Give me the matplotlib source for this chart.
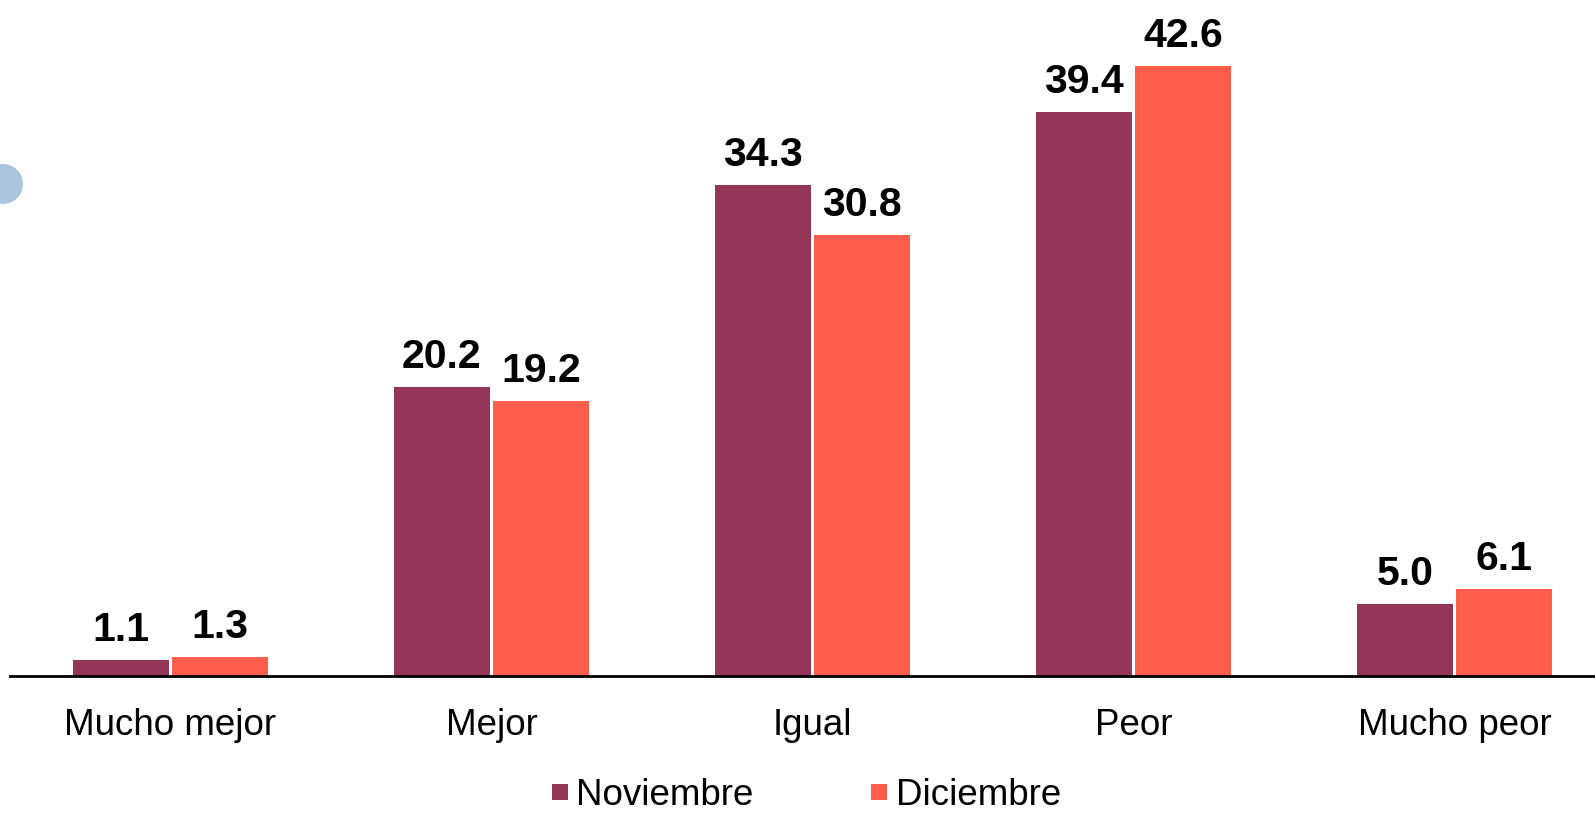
import numpy as np
import matplotlib
matplotlib.use("Agg")
import matplotlib.pyplot as plt
from matplotlib.lines import Line2D
from matplotlib.patches import Ellipse

categories = ["Mucho mejor", "Mejor", "Igual", "Peor", "Mucho peor"]
noviembre = [1.1, 20.2, 34.3, 39.4, 5.0]
diciembre = [1.3, 19.2, 30.8, 42.6, 6.1]
series_names = ["Noviembre", "Diciembre"]
colors = ["#953558", "#FF5E4D"]

plt.rcParams["font.family"] = ["Liberation Sans", "DejaVu Sans"]

W, H = 1595, 813
fig = plt.figure(figsize=(W / 100, H / 100), dpi=100)

# axes: left edge at x=10px, bottom at y=676px, 321px per category
left_px, bottom_px = 10, 137
cat_px = 321
px_per_unit = 14.32
ymax = 45
ax = fig.add_axes([left_px / W, bottom_px / H,
                   5 * cat_px / W, ymax * px_per_unit / H])

x = np.arange(len(categories))
width = 0.30
off = 0.155
for vals, col, sign in [(noviembre, colors[0], -1), (diciembre, colors[1], 1)]:
    bars = ax.bar(x + sign * off, vals, width, color=col, linewidth=0)
    for b, v in zip(bars, vals):
        ax.annotate(f"{v:.1f}", (b.get_x() + b.get_width() / 2, v),
                    xytext=(0, 8), textcoords="offset points",
                    ha="center", va="bottom", fontsize=29.5, fontweight="bold")

ax.set_xlim(-0.5, 4.5)
ax.set_ylim(0, ymax)
ax.set_xticks(x)
ax.set_xticklabels(categories, fontsize=26.5)
ax.tick_params(axis="x", length=0, pad=23)
ax.set_yticks([])
for s in ["top", "right", "left"]:
    ax.spines[s].set_visible(False)
ax.spines["bottom"].set_linewidth(2)
ax.spines["bottom"].set_color("black")

handles = [Line2D([], [], marker="s", linestyle="none", markersize=11,
                  markerfacecolor=c, markeredgewidth=0) for c in colors]
fig.legend(handles, series_names, loc="lower center", ncol=2, frameon=False,
           bbox_to_anchor=(803 / W, 0.0), fontsize=26.5, borderpad=0.0,
           borderaxespad=0.0, handletextpad=0.05, columnspacing=3.0,
           handlelength=0.8)

# decorative circle at left edge
fig.patches.append(Ellipse((3, H - 184), 40, 40, transform=None,
                           facecolor="#A9C4DC", edgecolor="none"))

fig.savefig("out.png", dpi=100)
